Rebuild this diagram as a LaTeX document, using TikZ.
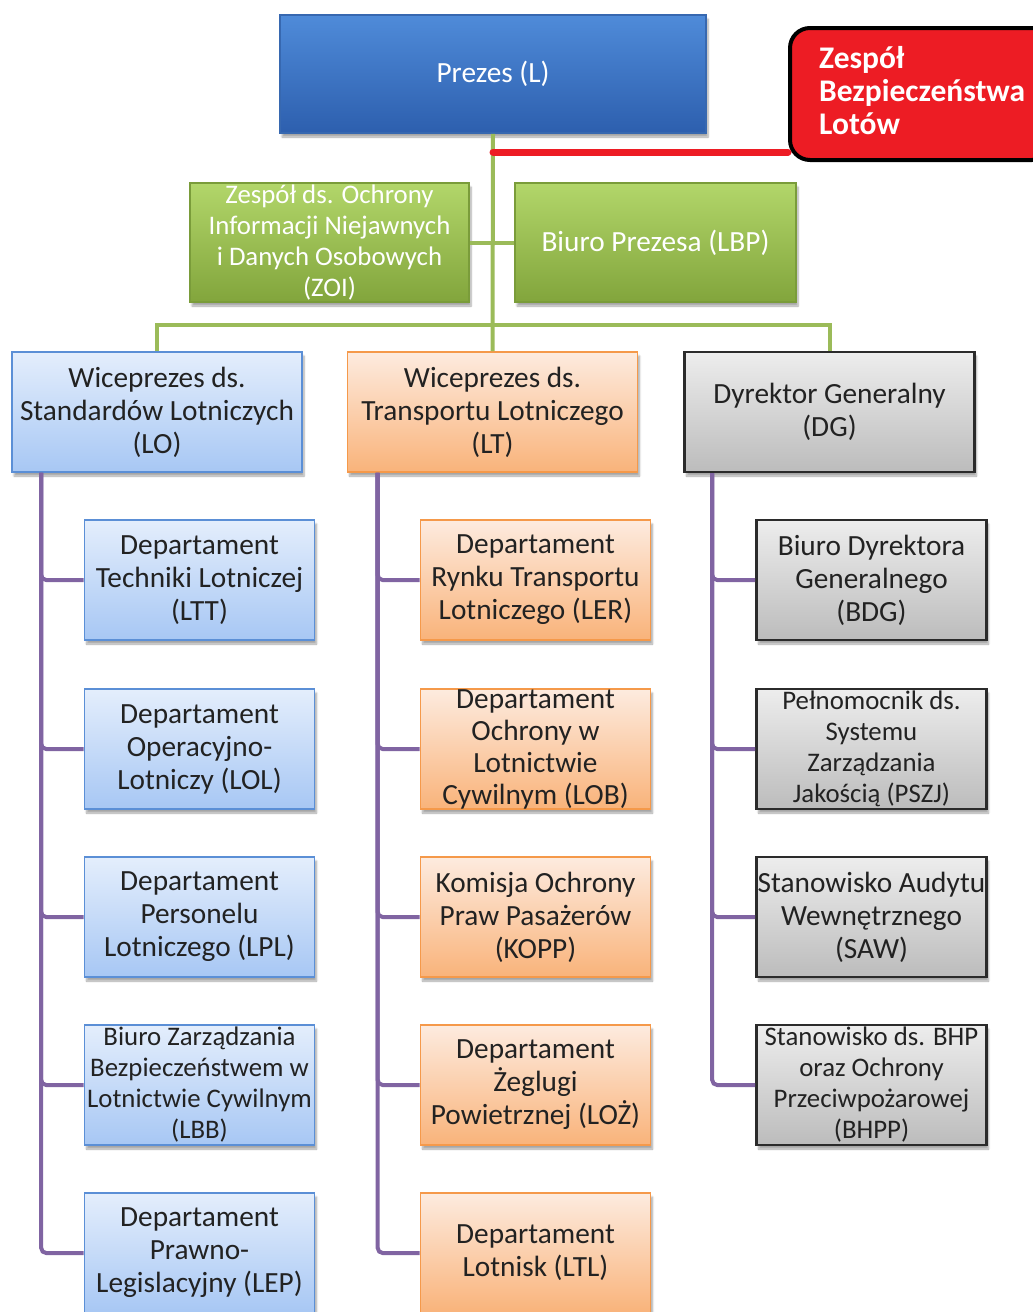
\documentclass[tikz,border=0pt]{standalone}
\usepackage{fontspec}
\setmainfont{Carlito}
\usetikzlibrary{shadows.blur,calc}

\definecolor{prezT}{HTML}{4F8BD9}
\definecolor{prezB}{HTML}{2D5FAE}
\definecolor{prezD}{HTML}{3768B0}
\definecolor{grnT}{HTML}{B2D66A}
\definecolor{grnB}{HTML}{82A53C}
\definecolor{grnD}{HTML}{7A9C3A}
\definecolor{grnLine}{HTML}{9BBB59}
\definecolor{lbT}{HTML}{E4EEFC}
\definecolor{lbB}{HTML}{A7C7F4}
\definecolor{lbD}{HTML}{5B8FD6}
\definecolor{orT}{HTML}{FDEBDF}
\definecolor{orB}{HTML}{F9B37A}
\definecolor{orD}{HTML}{F5994A}
\definecolor{gyT}{HTML}{EDEDED}
\definecolor{gyB}{HTML}{BCBCBC}
\definecolor{gyD}{HTML}{2B2B2B}
\definecolor{redF}{HTML}{ED1C24}
\definecolor{purp}{HTML}{8064A2}
\definecolor{txtc}{HTML}{222222}

\begin{document}
\begin{tikzpicture}[x=1pt,y=-1pt,
  box/.style={inner sep=0pt, line width=1.6pt,
    blur shadow={shadow xshift=2pt, shadow yshift=-4pt, shadow blur steps=6, shadow opacity=35}},
  topbox/.style={box, draw=prezD, top color=prezT, bottom color=prezB},
  grnbox/.style={box, draw=grnD, top color=grnT, bottom color=grnB},
  bluebox/.style={box, draw=lbD, top color=lbT, bottom color=lbB},
  orbox/.style={box, draw=orD, top color=orT, bottom color=orB},
  graybox/.style={box, draw=gyD, line width=2.6pt, top color=gyT, bottom color=gyB},
  redbox/.style={inner sep=0pt, fill=redF, draw=black, line width=4pt, rounded corners=20pt},
  headsize/.style={minimum width=290, minimum height=120},
  subsize/.style={minimum width=230, minimum height=120},
  txt/.style={align=center, text=txtc, inner sep=0pt, font=\fontsize{29.3}{33}\selectfont},
  smalltxt/.style={txt, font=\fontsize{26.8}{31}\selectfont},
  wtxt/.style={txt, text=white},
  gline/.style={grnLine, line width=4pt},
  pline/.style={purp, line width=4pt, rounded corners=5pt},
  rline/.style={redF, line width=7pt, line cap=round}
]
\useasboundingbox (0,0) rectangle (1033,1312);
\clip (0,0) rectangle (1033,1312);

% ---- top level ----
\node[topbox, minimum width=426, minimum height=118] (prezes) at (493,74) {};
\node[wtxt] (prezes-t) at (prezes) {Prezes (L)};

\node[redbox, minimum width=262, minimum height=132] (zbl) at (921,94) {};
\node[txt, text=white, align=left, anchor=west, font=\fontsize{31.5}{33}\selectfont\bfseries] (zbl-t) at (819,91)
  {Zespół\\Bezpieczeństwa\\Lotów};

\node[grnbox, minimum width=279, minimum height=119] (zoi) at (329.5,242.5) {};
\node[wtxt, font=\fontsize{26.8}{31}\selectfont] (zoi-t) at (zoi)
  {Zespół ds. Ochrony\\Informacji Niejawnych\\i Danych Osobowych\\(ZOI)};
\node[grnbox, minimum width=281, minimum height=119] (lbp) at (655.5,242.5) {};
\node[wtxt] (lbp-t) at (lbp) {Biuro Prezesa (LBP)};

% ---- vice presidents and director ----
\node[bluebox, headsize] (lo) at (157,412) {};
\node[txt] (lo-t) at (lo) {Wiceprezes ds.\\Standardów Lotniczych\\(LO)};
\node[orbox, headsize] (lt) at (492.5,412) {};
\node[txt] (lt-t) at (lt) {Wiceprezes ds.\\Transportu Lotniczego\\(LT)};
\node[graybox, headsize] (dg) at (829.5,412) {};
\node[txt] (dg-t) at (dg) {Dyrektor Generalny\\(DG)};

% ---- LO departments ----
\node[bluebox, subsize] (ltt) at (199.5,580) {};
\node[txt] (ltt-t) at (ltt) {Departament\\Techniki Lotniczej\\(LTT)};
\node[bluebox, subsize] (lol) at (199.5,749) {};
\node[txt] (lol-t) at (lol) {Departament\\Operacyjno-\\Lotniczy (LOL)};
\node[bluebox, subsize] (lpl) at (199.5,917) {};
\node[txt] (lpl-t) at (lpl) {Departament\\Personelu\\Lotniczego (LPL)};
\node[bluebox, subsize] (lbb) at (199.5,1085) {};
\node[smalltxt] (lbb-t) at (lbb) {Biuro Zarządzania\\Bezpieczeństwem w\\Lotnictwie Cywilnym\\(LBB)};
\node[bluebox, subsize] (lep) at (199.5,1253) {};
\node[txt] (lep-t) at (lep) {Departament\\Prawno-\\Legislacyjny (LEP)};

% ---- LT departments ----
\node[orbox, subsize] (ler) at (535.5,580) {};
\node[txt] (ler-t) at (ler) {Departament\\Rynku Transportu\\Lotniczego (LER)};
\node[orbox, subsize] (lob) at (535.5,749) {};
\node[txt, font=\fontsize{29.3}{32}\selectfont] (lob-t) at (lob) {Departament\\Ochrony w\\Lotnictwie\\Cywilnym (LOB)};
\node[orbox, subsize] (kopp) at (535.5,917) {};
\node[txt] (kopp-t) at (kopp) {Komisja Ochrony\\Praw Pasażerów\\(KOPP)};
\node[orbox, subsize] (loz) at (535.5,1085) {};
\node[txt] (loz-t) at (loz) {Departament\\Żeglugi\\Powietrznej (LOŻ)};
\node[orbox, subsize] (ltl) at (535.5,1253) {};
\node[txt] (ltl-t) at (ltl) {Departament\\Lotnisk (LTL)};

% ---- DG units ----
\node[graybox, subsize] (bdg) at (871.5,580) {};
\node[txt] (bdg-t) at (bdg) {Biuro Dyrektora\\Generalnego\\(BDG)};
\node[graybox, subsize] (pszj) at (871.5,749) {};
\node[smalltxt] (pszj-t) at (pszj) {Pełnomocnik ds.\\Systemu\\Zarządzania\\Jakością (PSZJ)};
\node[graybox, subsize] (saw) at (871.5,917) {};
\node[txt] (saw-t) at (saw) {Stanowisko Audytu\\Wewnętrznego\\(SAW)};
\node[graybox, subsize] (bhpp) at (871.5,1085) {};
\node[smalltxt] (bhpp-t) at (bhpp) {Stanowisko ds. BHP\\oraz Ochrony\\Przeciwpożarowej\\(BHPP)};

% ---- connectors from the top ----
\draw[gline] (prezes.south) -- (lt.north);
\draw[gline] (zoi.east) -- (lbp.west);
\draw[gline] (lo.north) -- ++(0,-26) -| (dg.north);
\coordinate (rj) at (493,152);
\draw[rline] (rj) -- (rj -| zbl.west);

% ---- trunks to the departments ----
\coordinate (lo-trunk) at ($(lo.south west)+(30,0)$);
\coordinate (lt-trunk) at ($(lt.south west)+(31,0)$);
\coordinate (dg-trunk) at ($(dg.south west)+(29,0)$);
\foreach \c in {ltt,lol,lpl,lbb,lep} \draw[pline] (lo-trunk) |- (\c.west);
\foreach \c in {ler,lob,kopp,loz,ltl} \draw[pline] (lt-trunk) |- (\c.west);
\foreach \c in {bdg,pszj,saw,bhpp} \draw[pline] (dg-trunk) |- (\c.west);
\end{tikzpicture}
\end{document}
